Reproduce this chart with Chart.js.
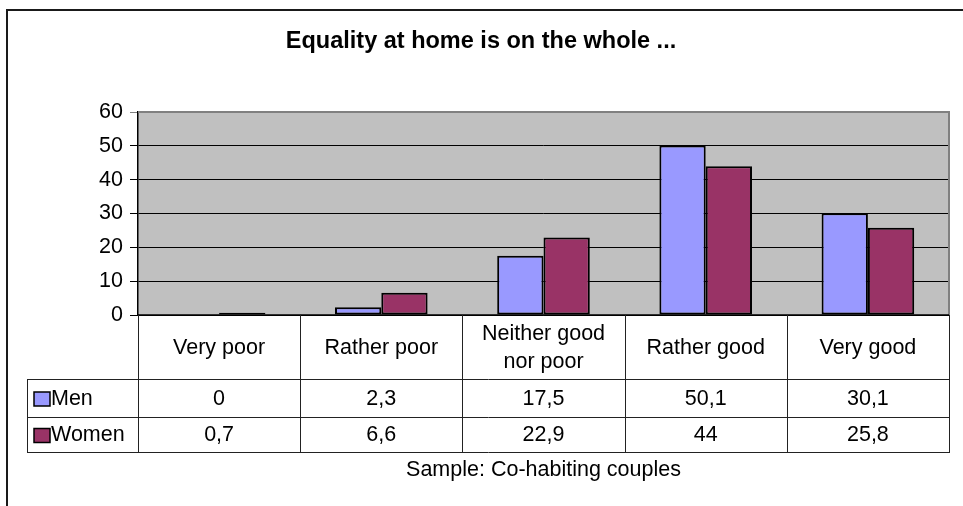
<!DOCTYPE html>
<html>
<head>
<meta charset="utf-8">
<script src="https://cdn.jsdelivr.net/npm/chart.js@4/dist/chart.umd.min.js"></script>
<style>
  html, body { margin: 0; padding: 0; background: #fff; }
  canvas { display: block; }
</style>
</head>
<body>
<canvas id="chart" width="963" height="506"></canvas>
<script>
// Survey answers, one column per category
const categories = ['Very poor', 'Rather poor', ['Neither good', 'nor poor'], 'Rather good', 'Very good'];
const seriesNames = ['Men', 'Women'];
const menValues = [0, 2.3, 17.5, 50.1, 30.1];
const womenValues = [0.7, 6.6, 22.9, 44, 25.8];
const yTicks = [0, 10, 20, 30, 40, 50, 60];
const titleText = 'Equality at home is on the whole ...';
const footnoteText = 'Sample: Co-habiting couples';

const FONT = "'Liberation Sans', Arial, sans-serif";
const TEXT_SIZE = 21.5;
const menColor = '#9999FF';
const womenColor = '#993366';
const plotFill = '#C0C0C0';

// Decimal comma, as in the data table
const fmt = v => String(v).replace('.', ',');

const plotBackground = {
  id: 'plotBackground',
  beforeDraw(chart) {
    const { ctx, chartArea: a } = chart;
    ctx.save();
    ctx.fillStyle = '#fff';
    ctx.fillRect(0, 0, chart.width, chart.height);
    ctx.fillStyle = plotFill;
    ctx.fillRect(a.left, a.top, a.right - a.left, a.bottom - a.top);
    ctx.restore();
  }
};

// Data table under the plot, legend keys, footnote and outer frame
const dataTable = {
  id: 'dataTable',
  afterDraw(chart) {
    const { ctx, chartArea: a } = chart;
    const xs = chart.scales.x;
    const n = categories.length;
    const half = (xs.getPixelForValue(1) - xs.getPixelForValue(0)) / 2;
    const bounds = [];
    for (let i = 0; i < n; i++) bounds.push(xs.getPixelForValue(i) - half);
    bounds.push(xs.getPixelForValue(n - 1) + half);

    const headBottom = a.bottom + 64;
    const row1Bottom = headBottom + 38;
    const row2Bottom = row1Bottom + 35;
    const keyLeft = 27;

    ctx.save();
    // plot border (top and right)
    ctx.strokeStyle = '#808080';
    ctx.lineWidth = 2;
    ctx.beginPath();
    ctx.moveTo(a.left, a.top);
    ctx.lineTo(a.right, a.top);
    ctx.lineTo(a.right, a.bottom);
    ctx.stroke();

    // axis line
    ctx.strokeStyle = '#000';
    ctx.lineWidth = 1.5;
    ctx.beginPath();
    ctx.moveTo(a.left, a.bottom);
    ctx.lineTo(a.right, a.bottom);
    ctx.stroke();

    // table grid
    ctx.strokeStyle = '#222';
    ctx.lineWidth = 1;
    ctx.beginPath();
    bounds.forEach(x => {
      const px = Math.round(x) + 0.5;
      ctx.moveTo(px, a.bottom);
      ctx.lineTo(px, row2Bottom);
    });
    ctx.moveTo(keyLeft + 0.5, headBottom);
    ctx.lineTo(keyLeft + 0.5, row2Bottom);
    [headBottom, row1Bottom, row2Bottom].forEach(y => {
      const py = Math.round(y) + 0.5;
      ctx.moveTo(keyLeft, py);
      ctx.lineTo(Math.round(bounds[n]) + 1, py);
    });
    ctx.stroke();

    // rows: legend key, name, values
    const rows = [
      { name: seriesNames[0], color: menColor, values: menValues, top: headBottom, bottom: row1Bottom },
      { name: seriesNames[1], color: womenColor, values: womenValues, top: row1Bottom, bottom: row2Bottom }
    ];
    ctx.font = `${TEXT_SIZE}px ${FONT}`;
    ctx.fillStyle = '#000';
    ctx.textBaseline = 'middle';
    rows.forEach(r => {
      const cy = (r.top + r.bottom) / 2 + 1;
      ctx.fillStyle = r.color;
      ctx.fillRect(34, cy - 7, 16, 14);
      ctx.strokeStyle = '#000';
      ctx.lineWidth = 1.5;
      ctx.strokeRect(34, cy - 7, 16, 14);
      ctx.fillStyle = '#000';
      ctx.textAlign = 'left';
      ctx.fillText(r.name, 51, cy);
      ctx.textAlign = 'center';
      r.values.forEach((v, i) => {
        ctx.fillText(fmt(v), (bounds[i] + bounds[i + 1]) / 2, cy);
      });
    });

    // footnote centred under the plot
    ctx.textAlign = 'center';
    ctx.fillText(footnoteText, (a.left + a.right) / 2, 470);

    // outer frame
    ctx.fillStyle = '#1a1a1a';
    ctx.fillRect(6, 9, chart.width - 6, 2);
    ctx.fillRect(6, 9, 2, chart.height - 9);
    ctx.restore();
  }
};

new Chart(document.getElementById('chart'), {
  type: 'bar',
  data: {
    labels: categories,
    datasets: [
      { label: seriesNames[0], data: menValues, backgroundColor: menColor, borderColor: '#000', borderWidth: 2, borderSkipped: false },
      { label: seriesNames[1], data: womenValues, backgroundColor: womenColor, borderColor: '#000', borderWidth: 2, borderSkipped: false }
    ]
  },
  options: {
    responsive: false,
    animation: false,
    devicePixelRatio: 1,
    datasets: { bar: { categoryPercentage: 0.571, barPercentage: 1 } },
    layout: { padding: { left: 13, right: 14, top: 0, bottom: 0 } },
    plugins: {
      legend: { display: false },
      tooltip: { enabled: false },
      title: {
        display: true,
        text: titleText,
        color: '#000',
        font: { family: FONT, size: 23.5, weight: 'bold', lineHeight: 1.2 },
        padding: { top: 27, bottom: 56.8 }
      }
    },
    scales: {
      x: {
        offset: true,
        grid: { display: false, drawTicks: false },
        border: { display: false },
        ticks: {
          color: '#000',
          font: { family: FONT, size: TEXT_SIZE, lineHeight: 1.3 },
          padding: 19,
          crossAlign: 'center',
          maxRotation: 0,
          minRotation: 0,
          autoSkip: false
        },
        afterFit(scale) { scale.height = 191; }
      },
      y: {
        min: 0,
        max: 60,
        afterBuildTicks(scale) { scale.ticks = yTicks.map(v => ({ value: v })); },
        ticks: { color: '#000', font: { family: FONT, size: TEXT_SIZE }, padding: 7 },
        grid: {
          color: ctx => (ctx.tick && ctx.tick.value === 60 ? '#808080' : '#000'),
          lineWidth: 1,
          drawTicks: true,
          tickLength: 8
        },
        border: { display: true, color: '#000', width: 1.5 },
        afterFit(scale) { scale.width = 125; }
      }
    }
  },
  plugins: [plotBackground, dataTable]
});
</script>
</body>
</html>
